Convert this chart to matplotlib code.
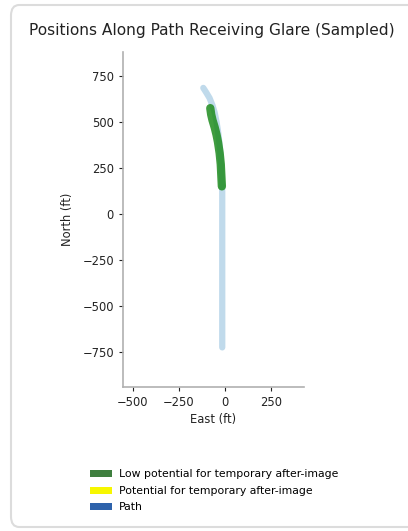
import matplotlib
matplotlib.use('Agg')
import matplotlib.pyplot as plt
from matplotlib.patches import Patch, FancyBboxPatch

# path sampled positions (ft)
path_east = [-15, -15, -15, -15, -15, -15, -15, -15, -15, -15, -15, -15, -15, -15, -15,
             -15, -15, -15, -16, -18, -20, -23, -27, -32, -38, -46, -56, -68, -84, -102, -118]
path_north = [-725, -675, -625, -575, -525, -475, -425, -375, -325, -275, -225, -175, -125, -75, -25,
              25, 75, 125, 150, 200, 250, 300, 350, 400, 450, 500, 550, 590, 630, 660, 685]

# positions receiving glare (low potential for after-image)
glare_east = [-17, -18, -19, -20, -21, -22, -23, -25, -27, -29, -32, -35, -38, -42, -46, -51, -56, -62, -68, -75, -80]
glare_north = [150, 170, 190, 210, 230, 250, 270, 290, 310, 330, 350, 370, 390, 410, 430, 450, 470, 490, 510, 540, 575]

legend_labels = ['Low potential for temporary after-image', 'Potential for temporary after-image', 'Path']
legend_colors = ['#3f7f3f', '#f7f700', '#2d62ab']

fig = plt.figure(figsize=(4.08, 5.31), dpi=100)

# card outline
card = FancyBboxPatch((11 / 408, 4 / 531), 420 / 408, 522 / 531,
                      boxstyle='round,pad=0,rounding_size=0.02',
                      transform=fig.transFigure, facecolor='white',
                      edgecolor='#dcdcdc', linewidth=1.5, zorder=-10)
fig.patches.append(card)

ax = fig.add_axes([123 / 408, 1 - 387 / 531, 181 / 408, 335 / 531])
ax.set_facecolor('none')

ax.plot(path_east, path_north, color='#8dbcdc', alpha=0.55, linewidth=4.5,
        solid_capstyle='round', zorder=2)
ax.plot(glare_east, glare_north, color='#1e8c1e', alpha=0.85, linewidth=6,
        solid_capstyle='round', zorder=3)

ax.set_xlim(-560, 435)
ax.set_ylim(-940, 880)
ax.set_aspect('equal', adjustable='datalim')
ax.set_xticks([-500, -250, 0, 250])
ax.set_yticks([-750, -500, -250, 0, 250, 500, 750])

for s in ['top', 'right']:
    ax.spines[s].set_visible(False)
for s in ['left', 'bottom']:
    ax.spines[s].set_color('#b0b0b0')
    ax.spines[s].set_linewidth(1.2)
ax.tick_params(labelsize=8.3, colors='#222222', length=3, width=0.8)

ax.set_xlabel('East (ft)', fontsize=8.3, color='#222222', labelpad=3)
ax.set_ylabel('North (ft)', fontsize=8.3, color='#222222', labelpad=6)

fig.text(0.518, 1 - 30 / 531, 'Positions Along Path Receiving Glare (Sampled)',
         ha='center', va='center', fontsize=11.1, color='#222222')

handles = [Patch(facecolor=c, edgecolor='none') for c in legend_colors]
fig.legend(handles, legend_labels, loc='upper left', bbox_to_anchor=(86 / 408, 1 - 465 / 531),
           frameon=False, fontsize=7.85, handlelength=2.0, handleheight=0.6,
           labelspacing=0.6, handletextpad=0.6, borderaxespad=0)

fig.savefig('out.png', dpi=100)
